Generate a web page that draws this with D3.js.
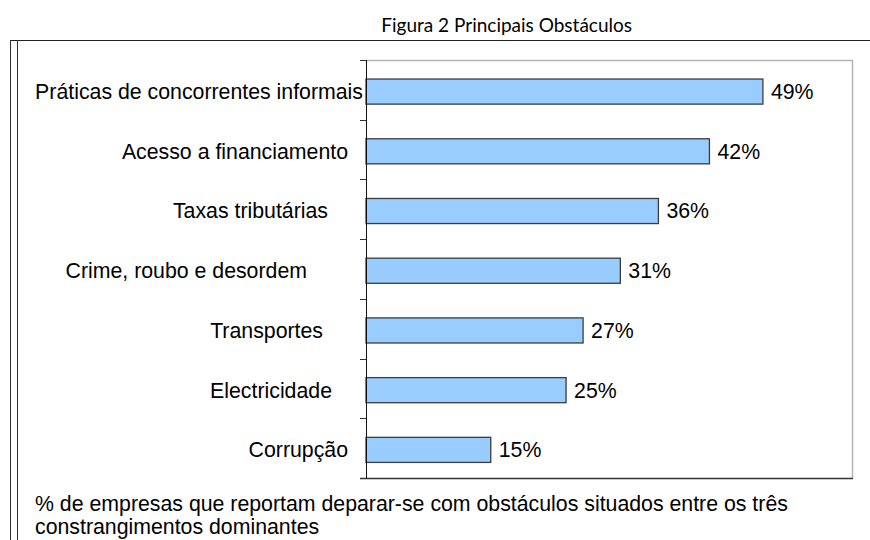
<!DOCTYPE html>
<html>
<head>
<meta charset="utf-8">
<script src="https://cdn.jsdelivr.net/npm/d3@7"></script>
<style>
  body { margin: 0; background: #fff; }
  svg { display: block; }
  text { font-family: "Liberation Sans", Arial, sans-serif; fill: #000; }
</style>
</head>
<body>
<svg id="chart"></svg>
<script>
// data
const categories = [
  "Práticas de concorrentes informais",
  "Acesso a financiamento",
  "Taxas tributárias",
  "Crime, roubo e desordem",
  "Transportes",
  "Electricidade",
  "Corrupção"
]
const values = [49.0, 42.4, 36.1, 31.4, 26.8, 24.7, 15.4]
const xDomain = [0, 60]
const title = "Figura 2 Principais Obstáculos"
const footnote = [
  "% de empresas que reportam deparar-se com obstáculos situados entre os três",
  "constrangimentos dominantes"
]

// layout: distance between each category label's end and the axis
const labelInset = [3, 18, 38, 59, 43, 34, 18]

const width = 870, height = 540
const plot = { left: 366, top: 60, right: 852, bottom: 478 }
const fontSize = "21.3px"

const svg = d3.select("#chart")
  .attr("width", width)
  .attr("height", height)

// frame around the figure
svg.append("line")
  .attr("x1", 10).attr("x2", width)
  .attr("y1", 40.5).attr("y2", 40.5)
  .attr("stroke", "#222").attr("stroke-width", 1.2)
svg.append("line")
  .attr("x1", 10.5).attr("x2", 10.5)
  .attr("y1", 40).attr("y2", height)
  .attr("stroke", "#333")
svg.append("line")
  .attr("x1", 17.5).attr("x2", 17.5)
  .attr("y1", 40).attr("y2", height)
  .attr("stroke", "#333")

svg.append("text")
  .attr("x", 632)
  .attr("y", 32)
  .attr("text-anchor", "end")
  .style("font-family", "Lato, 'Open Sans', sans-serif")
  .style("font-size", "19px")
  .text(title)

// scales
const xScale = d3.scaleLinear()
  .domain(xDomain)
  .range([plot.left, plot.right])

const yScale = d3.scaleBand()
  .domain(categories)
  .range([plot.top, plot.bottom])
  .paddingInner(0.58)
  .paddingOuter(0.29)
  .align(0.55)

const step = yScale.step()

// plot area border (light, top/right)
svg.append("path")
  .attr("d", `M${plot.left},${plot.top + 0.5}H${plot.right + 0.5}V${plot.bottom}`)
  .attr("fill", "none")
  .attr("stroke", "#b4b4b4")
  .attr("stroke-width", 1.5)

// bars
svg.append("g")
  .selectAll("rect")
  .data(categories)
  .join("rect")
  .attr("x", xScale(0))
  .attr("y", d => yScale(d))
  .attr("width", (d, i) => xScale(values[i]) - xScale(0))
  .attr("height", yScale.bandwidth())
  .attr("fill", "#99ccff")
  .attr("stroke", "#3c3c3c")
  .attr("stroke-width", 1.3)

// value labels
svg.append("g")
  .selectAll("text")
  .data(categories)
  .join("text")
  .attr("x", (d, i) => xScale(values[i]) + 8)
  .attr("y", d => yScale(d) + yScale.bandwidth() / 2)
  .attr("dy", "0.35em")
  .style("font-size", fontSize)
  .text((d, i) => Math.round(values[i]) + "%")

// category labels
svg.append("g")
  .selectAll("text")
  .data(categories)
  .join("text")
  .attr("x", (d, i) => plot.left - labelInset[i])
  .attr("y", d => yScale(d) + yScale.bandwidth() / 2)
  .attr("dy", "0.35em")
  .attr("text-anchor", "end")
  .style("font-size", fontSize)
  .text(d => d)

// axes: category boundary ticks on the left, baseline at bottom
const tickYs = d3.range(categories.length + 1).map(i => plot.top + i * step)
svg.append("g")
  .selectAll("line")
  .data(tickYs)
  .join("line")
  .attr("x1", plot.left - 6).attr("x2", plot.left)
  .attr("y1", d => Math.round(d) + 0.5).attr("y2", d => Math.round(d) + 0.5)
  .attr("stroke", "#333")

svg.append("line")
  .attr("x1", plot.left + 0.5).attr("x2", plot.left + 0.5)
  .attr("y1", plot.top).attr("y2", plot.bottom + 1)
  .attr("stroke", "#111")
svg.append("line")
  .attr("x1", plot.left - 6).attr("x2", plot.right + 1)
  .attr("y1", plot.bottom + 0.5).attr("y2", plot.bottom + 0.5)
  .attr("stroke", "#333")
  .attr("stroke-width", 1.3)

// footnote (second line kept just inside the bottom edge)
svg.append("g")
  .selectAll("text")
  .data(footnote)
  .join("text")
  .attr("x", 35)
  .attr("y", (d, i) => 511 + i * 23)
  .style("font-size", fontSize)
  .text(d => d)
</script>
</body>
</html>
